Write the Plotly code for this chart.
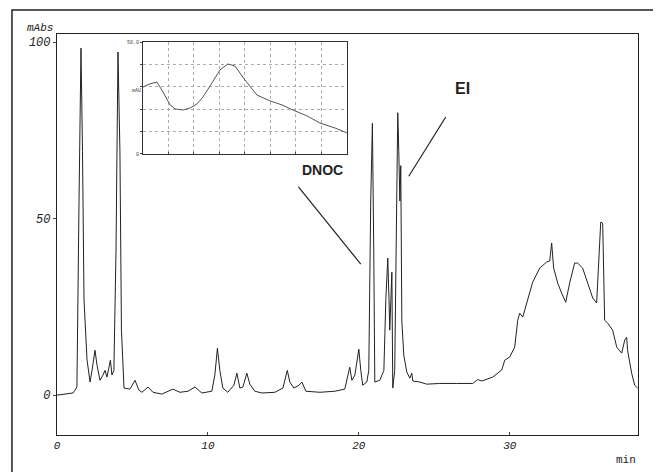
import plotly.graph_objects as go

# Chromatogram: retention time (min) and absorbance (mAbs)
rt_min = [0.0, 0.6, 1.06, 1.19, 1.32, 1.46, 1.59, 1.69, 1.79, 1.99, 2.19, 2.32, 2.52, 2.65, 2.85,
          3.05, 3.18, 3.31, 3.44, 3.54, 3.64, 3.77, 3.91, 4.04, 4.17, 4.27, 4.44, 4.83, 5.17, 5.43,
          5.63, 6.03, 6.36, 6.95, 7.68, 8.15, 8.68, 9.14, 9.6, 10.26, 10.46, 10.63, 10.79, 10.99,
          11.32, 11.72, 11.92, 12.12, 12.32, 12.58, 12.78, 13.11, 13.58, 14.44, 14.97, 15.26, 15.43,
          15.7, 16.03, 16.23, 16.49, 17.42, 18.41, 19.07, 19.4, 19.54, 19.74, 20.0, 20.13, 20.26,
          20.53, 20.66, 20.79, 20.9, 20.99, 21.06, 21.39, 21.66, 21.79, 21.92, 22.0, 22.05, 22.19,
          22.25, 22.38, 22.52, 22.58, 22.65, 22.72, 22.78, 22.85, 22.98, 23.18, 23.38, 23.51, 23.58,
          24.04, 24.5, 25.36, 26.49, 27.55, 27.88, 28.15, 28.87, 29.47, 29.67, 30.0, 30.33, 30.53,
          30.66, 30.86, 31.13, 31.52, 31.99, 32.45, 32.65, 32.78, 32.91, 33.18, 33.44, 33.71, 33.97,
          34.3, 34.5, 34.83, 35.17, 35.5, 35.76, 35.89, 36.03, 36.16, 36.23, 36.29, 36.49, 36.82,
          37.09, 37.42, 37.62, 37.75, 37.81, 38.08, 38.28, 38.48]
absorbance = [0.0, 0.3, 0.6, 1.4, 2.3, 55, 98.3, 69, 27, 10, 3.7, 7, 12.7, 8.5, 4.2,
              5.7, 7, 5.1, 8.5, 9.9, 5.7, 7, 41, 97.2, 69, 18.4, 2.0, 1.7, 4.2, 1.4,
              0.8, 2.3, 0.8, 0.3, 1.7, 0.8, 1.1, 2.3, 0.6, 1.1, 5.7, 13.3, 7, 2.0,
              0.8, 2.8, 6.2, 2.0, 2.3, 6.2, 3.1, 1.1, 0.6, 0.8, 2.0, 7, 3.7,
              2.0, 2.8, 3.7, 1.1, 0.8, 1.1, 1.7, 7.9, 4.2, 5.7, 13.0, 7, 2.8,
              3.7, 7, 55, 77, 41, 3.7, 4.2, 7, 27, 38.8, 27, 18.4, 34.8,
              2.0, 7, 55, 80, 69, 55, 65, 21, 11.3, 6.5, 4.8, 6.2, 4.0,
              3.7, 3.1, 3.3, 3.3, 3.3, 4.4, 4.0, 5.1, 7.1, 9.9, 10.8, 13.6, 21.2,
              23.2, 22.1, 26.1, 32.0, 36.0, 37.7, 38.0, 43.1, 36.0, 31.7, 28.9, 26.3, 31.7,
              37.4, 37.4, 36.0, 31.7, 27.5, 26.1, 37.4, 49.0, 48.7, 32.6, 21.2, 20.4, 18.4,
              13.6, 11.9, 15.6, 16.4, 12.7, 6.2, 2.8, 2.0]

# Inset UV spectrum
wl_nm = [200, 206.9, 213.7, 219.6, 226.5, 231.4, 239.2, 246.1, 252.9, 258.8, 267.6, 275.5,
         283.3, 290.2, 300, 311.8, 324.5, 336.3, 347.1, 360.8, 373.5, 388.2, 400]
spec_mau = [29.9, 31.3, 32.1, 27.7, 21.9, 20.1, 19.6, 20.5, 22.3, 25.4, 31.7, 37.5,
            40.2, 39.3, 33.0, 26.3, 23.7, 21.9, 19.6, 17.0, 13.8, 11.6, 9.4]

x_ticks = [0, 10, 20, 30]
y_ticks = [0, 50, 100]
inset_y_ticks = [0, 10, 20, 30, 40, 50]
inset_y_text = ["0", "", "", "", "", "50.0"]

mono = "Liberation Mono"
ink = "#222222"

fig = go.Figure()
fig.add_trace(go.Scatter(x=rt_min, y=absorbance, mode="lines",
                         line=dict(color=ink, width=1), showlegend=False, hoverinfo="skip"))
fig.add_trace(go.Scatter(x=wl_nm, y=spec_mau, mode="lines", xaxis="x2", yaxis="y2",
                         line=dict(color="#555555", width=1), showlegend=False, hoverinfo="skip"))

# The page body adds an 8px offset, so the figure is sized to end exactly at the window edge
fig.update_layout(
    width=653, height=464,
    margin=dict(l=49, r=23, t=26, b=37),
    paper_bgcolor="white", plot_bgcolor="white",
    xaxis=dict(range=[0, 38.5], tickvals=x_ticks, ticks="inside", ticklen=3,
               showgrid=False, zeroline=False, showline=True, linecolor=ink, linewidth=1.2,
               mirror=True, tickfont=dict(family=mono, size=11, color=ink, style="italic")),
    yaxis=dict(range=[-11.3, 102.3], tickvals=y_ticks, ticks="outside", ticklen=3,
               showgrid=False, zeroline=False, showline=True, linecolor=ink, linewidth=1.2,
               mirror=True, tickfont=dict(family=mono, size=12, color=ink, style="italic")),
    xaxis2=dict(domain=[0.148, 0.499], anchor="y2", range=[200, 400], dtick=25,
                showgrid=True, gridcolor="#aaaaaa", griddash="dot", gridwidth=1,
                zeroline=False, showline=True, linecolor="#333333", mirror=True,
                ticks="inside", ticklen=2, showticklabels=False),
    yaxis2=dict(domain=[0.701, 0.980], anchor="x2", range=[0, 50],
                showgrid=True, gridcolor="#aaaaaa", griddash="dot", gridwidth=1,
                zeroline=False, showline=True, linecolor="#333333", mirror=True,
                ticks="outside", ticklen=2, tickvals=inset_y_ticks, ticktext=inset_y_text,
                tickfont=dict(family=mono, size=5, color="#444444")),
)

fig.add_shape(type="rect", xref="paper", yref="paper", x0=-0.0775, x1=1.029, y0=-0.095, y1=1.06,
              line=dict(color=ink, width=1.5))
# Pointer lines for labels
fig.add_shape(type="line", xref="x", yref="y", x0=16.0, y0=59.0, x1=20.13, y1=37.1,
              line=dict(color=ink, width=1.2))
fig.add_shape(type="line", xref="x", yref="y", x0=25.76, y0=78.8, x1=23.31, y1=62.0,
              line=dict(color=ink, width=1.2))

fig.add_annotation(x=17.6, y=63.7, xref="x", yref="y", text="<b>DNOC</b>", showarrow=False,
                   font=dict(family="Liberation Sans", size=14, color=ink))
fig.add_annotation(x=26.9, y=87.0, xref="x", yref="y", text="<b>EI</b>", showarrow=False,
                   font=dict(family="Liberation Sans", size=16, color=ink))
fig.add_annotation(x=-0.003, y=1.015, xref="paper", yref="paper", text="mAbs", showarrow=False,
                   xanchor="right", yanchor="middle",
                   font=dict(family=mono, size=11, color=ink, style="italic"))
fig.add_annotation(x=1.0, y=-0.062, xref="paper", yref="paper", text="min", showarrow=False,
                   xanchor="right", yanchor="middle",
                   font=dict(family=mono, size=11, color=ink))
fig.add_annotation(x=0.148, y=0.87, xref="paper", yref="paper", text="mAU", showarrow=False,
                   xanchor="right", font=dict(family=mono, size=5, color="#444444"))

fig.write_html("out.html")
